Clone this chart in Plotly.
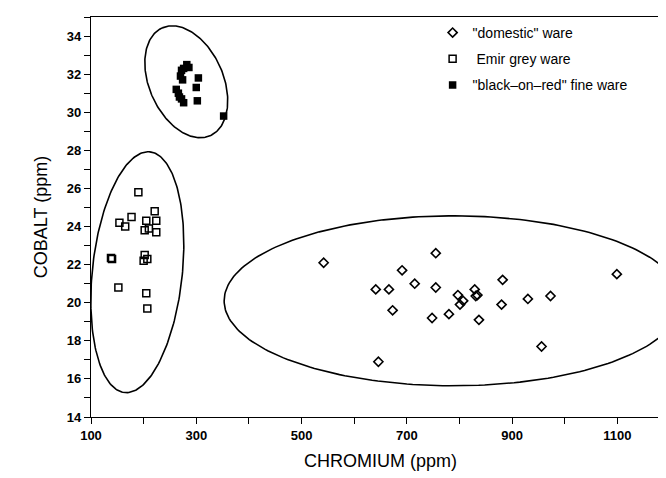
import numpy as np
import plotly.graph_objects as go

# ---------------- data ----------------
dom_cr = [542, 641, 646, 666, 673, 691, 715, 748, 755, 755, 780, 797, 801, 807,
          829, 834, 837, 880, 882, 930, 956, 973, 1099, 831]
dom_co = [22.1, 20.7, 16.9, 20.7, 19.6, 21.7, 21.0, 19.2, 22.6, 20.8, 19.4, 20.4, 19.9, 20.1,
          20.7, 20.4, 19.1, 19.9, 21.2, 20.2, 17.7, 20.35, 21.5, 20.35]

emir_cr = [190, 221, 177, 154, 165, 205, 224, 210, 202, 224, 138, 140, 202, 200, 207, 152, 205, 207]
emir_co = [25.8, 24.8, 24.5, 24.2, 24.0, 24.3, 24.3, 23.9, 23.8, 23.7, 22.35, 22.3, 22.5, 22.2, 22.3, 20.8, 20.5, 19.7]

bor_cr = [282, 276, 286, 272, 270, 274, 262, 266, 268, 272, 276, 304, 300, 302, 352]
bor_co = [32.5, 32.3, 32.35, 32.2, 31.9, 31.7, 31.2, 31.0, 30.8, 30.7, 30.5, 31.8, 31.3, 30.6, 29.8]

series_names = ['"domestic" ware', ' Emir grey ware', '"black\u2013on\u2013red" fine ware']

x_ticks = [100, 300, 500, 700, 900, 1100]
y_ticks = [14, 16, 18, 20, 22, 24, 26, 28, 30, 32, 34]

# ---------------- layout constants ----------------
W, H = 666, 478
ML, MR, MT, MB = 83, 4, 9, 69
XR = (100, 1200)
YR = (14, 35)
pw, ph = W - ML - MR, H - MT - MB
sx = pw / (XR[1] - XR[0])  # px per data unit
sy = ph / (YR[1] - YR[0])

# ellipses: centre in data, semi-axes in px, tilt (deg, positive = top leans left)
ellipses = [
    dict(cx=281, cy=31.6, a=59, b=37, ang=24),
    dict(cx=188, cy=21.6, a=121, b=45, ang=-6),
    dict(cx=788, cy=20.1, a=229, b=85, ang=90),
]


def ellipse_xy(e, n=240):
    t = np.linspace(0, 2 * np.pi, n)
    th = np.radians(e["ang"])
    ux, uy = -np.sin(th), np.cos(th)
    vx, vy = np.cos(th), np.sin(th)
    dx = e["a"] * np.cos(t) * ux + e["b"] * np.sin(t) * vx
    dy = e["a"] * np.cos(t) * uy + e["b"] * np.sin(t) * vy
    return e["cx"] + dx / sx, e["cy"] + dy / sy


fig = go.Figure()

for e in ellipses:
    ex, ey = ellipse_xy(e)
    fig.add_trace(go.Scatter(x=ex, y=ey, mode="lines", line=dict(color="black", width=1.6),
                             showlegend=False, hoverinfo="skip"))

fig.add_trace(go.Scatter(x=dom_cr, y=dom_co, mode="markers", name=series_names[0],
                         legendgroup="a",
                         marker=dict(symbol="diamond-open", size=7, color="black",
                                     line=dict(width=1.6, color="black"))))
fig.add_trace(go.Scatter(x=emir_cr, y=emir_co, mode="markers", name=series_names[1],
                         legendgroup="b",
                         marker=dict(symbol="square-open", size=7, color="black",
                                     line=dict(width=1.5, color="black"))))
fig.add_trace(go.Scatter(x=bor_cr, y=bor_co, mode="markers", name=series_names[2],
                         legendgroup="c",
                         marker=dict(symbol="square", size=7.5, color="black",
                                     line=dict(width=0, color="black"))))

axis_common = dict(showgrid=False, zeroline=False, showline=True, linecolor="black",
                   linewidth=1.3, mirror=True, ticks="outside", ticklen=6, tickwidth=1.2,
                   tickcolor="black",
                   tickfont=dict(family="Liberation Sans", size=13, color="black",
                                 weight="bold"))

fig.update_layout(
    width=W, height=H,
    margin=dict(l=ML, r=MR, t=MT, b=MB),
    paper_bgcolor="white", plot_bgcolor="white",
    font=dict(family="Liberation Sans", color="black"),
    xaxis=dict(range=list(XR), tickvals=x_ticks, ticktext=[str(v) for v in x_ticks],
               minor=dict(dtick=100, tick0=100, ticks="outside", ticklen=6, tickwidth=1.2,
                          tickcolor="black"),
               title=dict(text="CHROMIUM (ppm)", font=dict(size=18, family="Liberation Sans"),
                          standoff=12),
               **axis_common),
    yaxis=dict(range=list(YR), tickvals=y_ticks, ticktext=[str(v) for v in y_ticks],
               minor=dict(dtick=1, tick0=14, ticks="outside", ticklen=6, tickwidth=1.2,
                          tickcolor="black"),
               title=dict(text="COBALT (ppm)", font=dict(size=18, family="Liberation Sans"),
                          standoff=14),
               **axis_common),
    legend=dict(x=0.59, y=1.0, xanchor="left", yanchor="top", bgcolor="rgba(0,0,0,0)",
                font=dict(size=14, family="Liberation Sans", color="black"),
                traceorder="grouped", tracegroupgap=5),
    showlegend=True,
)

fig.write_html("out.html")
